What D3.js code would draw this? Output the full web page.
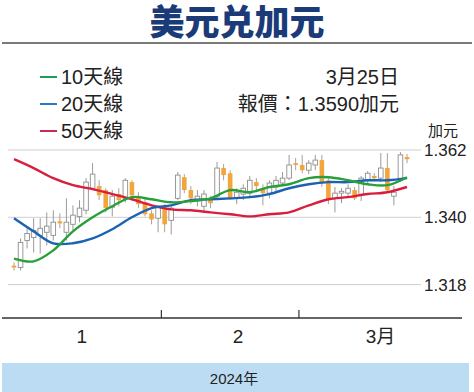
<!DOCTYPE html>
<html>
<head>
<meta charset="utf-8">
<script src="https://cdn.jsdelivr.net/npm/d3@7"></script>
<style>
  body { margin: 0; background: #fff; }
  svg { display: block; font-family: "Liberation Sans", "Noto Sans CJK TC", sans-serif; }
</style>
</head>
<body>
<svg id="chart" width="474" height="392"></svg>
<script>
// daily candles, 2 Jan - 25 Mar 2024 (USD/CAD)
const opens = [
  1.3242,1.3236,1.3324,1.3334,1.3341,1.3351,1.3341,1.3387,1.3351,1.3377,
  1.3403,1.3423,1.3495,1.3502,1.3489,1.3433,1.3476,1.3462,1.3515,1.3469,
  1.3449,1.3413,1.3397,1.3430,1.3390,1.3462,1.3531,1.3489,1.3456,1.3436,
  1.3459,1.3469,1.3561,1.3544,1.3462,1.3476,1.3479,1.3515,1.3495,1.3479,
  1.3499,1.3512,1.3528,1.3577,1.3571,1.3554,1.3571,1.3587,1.3521,1.3462,
  1.3479,1.3479,1.3489,1.3472,1.3521,1.3535,1.3528,1.3561,1.3469,1.3521,1.3597];
const closes = [
  1.3236,1.3318,1.3347,1.3357,1.3364,1.3371,1.3384,1.3380,1.3384,1.3407,
  1.3430,1.3515,1.3541,1.3472,1.3430,1.3469,1.3456,1.3521,1.3472,1.3443,
  1.3410,1.3393,1.3433,1.3377,1.3430,1.3538,1.3489,1.3462,1.3469,1.3476,
  1.3446,1.3561,1.3538,1.3462,1.3482,1.3495,1.3521,1.3502,1.3479,1.3512,
  1.3521,1.3528,1.3571,1.3571,1.3554,1.3577,1.3587,1.3515,1.3456,1.3479,
  1.3485,1.3495,1.3462,1.3528,1.3544,1.3528,1.3561,1.3489,1.3482,1.3604,1.3590];
const highs = [
  1.3252,1.3331,1.3364,1.3397,1.3397,1.3416,1.3423,1.3413,1.3462,1.3439,
  1.3456,1.3528,1.3577,1.3521,1.3495,1.3489,1.3495,1.3528,1.3521,1.3482,
  1.3462,1.3423,1.3439,1.3443,1.3436,1.3548,1.3541,1.3502,1.3489,1.3489,
  1.3469,1.3581,1.3574,1.3554,1.3495,1.3508,1.3535,1.3528,1.3508,1.3521,
  1.3535,1.3548,1.3604,1.3594,1.3604,1.3587,1.3604,1.3604,1.3528,1.3499,
  1.3495,1.3508,1.3499,1.3535,1.3551,1.3544,1.3610,1.3610,1.3502,1.3613,1.3607];
const lows = [
  1.3226,1.3226,1.3298,1.3285,1.3282,1.3308,1.3324,1.3364,1.3324,1.3357,
  1.3384,1.3410,1.3489,1.3456,1.3416,1.3403,1.3436,1.3449,1.3462,1.3430,
  1.3403,1.3377,1.3351,1.3351,1.3344,1.3456,1.3479,1.3443,1.3436,1.3416,
  1.3430,1.3462,1.3521,1.3456,1.3443,1.3456,1.3462,1.3482,1.3439,1.3462,
  1.3482,1.3502,1.3521,1.3554,1.3544,1.3541,1.3554,1.3499,1.3443,1.3416,
  1.3446,1.3469,1.3456,1.3453,1.3508,1.3518,1.3515,1.3482,1.3439,1.3515,1.3577];

// moving averages read at every third trading day
const maIdx = [0,3,6,9,12,15,18,21,24,27,30,33,36,39,42,45,48,51,54,57,60];
const ma10 = [1.3265,1.3256,1.3292,1.3354,1.3400,1.3436,1.3466,1.3459,1.3449,1.3453,1.3462,
              1.3489,1.3482,1.3499,1.3508,1.3528,1.3531,1.3521,1.3508,1.3505,1.3531];
const ma20 = [1.3397,1.3354,1.3315,1.3315,1.3331,1.3361,1.3400,1.3430,1.3439,1.3456,1.3459,
              1.3462,1.3466,1.3476,1.3495,1.3508,1.3515,1.3515,1.3521,1.3521,1.3528];
const ma50 = [1.3590,1.3561,1.3528,1.3505,1.3492,1.3476,1.3459,1.3439,1.3426,1.3423,1.3416,
              1.3410,1.3403,1.3410,1.3416,1.3439,1.3459,1.3466,1.3476,1.3482,1.3499];

const monthStarts = [0, 23, 44];
const monthLabels = ["1", "2", "3月"];
const yTicks = [1.318, 1.340, 1.362];

const legendItems = [
  { label: "10天線", color: "#1f9e55" },
  { label: "20天線", color: "#2a78c8" },
  { label: "50天線", color: "#c8285a" }
];

const svg = d3.select("#chart");
const W = 474;
const plotL = 8, plotR = 421, axisL = 2, axisR = 462, axisY = 318;

const x = d3.scaleLinear().domain([0, opens.length - 1]).range([14, 407]);
const y = d3.scaleLinear().domain([1.318, 1.362]).range([284.6, 150]);

// title
svg.append("text").attr("x", W / 2).attr("y", 35).attr("text-anchor", "middle")
  .attr("fill", "#1b3a78").style("font-size", "35px").style("font-weight", "900")
  .style("font-family", "'Noto Sans CJK SC', sans-serif").text("美元兑加元");
svg.append("line").attr("x1", 2).attr("x2", 472).attr("y1", 43).attr("y2", 43)
  .attr("stroke", "#7a7a7a").attr("stroke-width", 2);

// legend
legendItems.forEach((d, i) => {
  const ly = 77 + i * 27;
  svg.append("line").attr("x1", 40).attr("x2", 57).attr("y1", ly).attr("y2", ly)
    .attr("stroke", d.color).attr("stroke-width", 2);
  svg.append("text").attr("x", 61).attr("y", ly + 7).attr("fill", "#222")
    .style("font-size", "20px").text(d.label);
});
svg.append("text").attr("x", 399).attr("y", 84).attr("text-anchor", "end")
  .attr("fill", "#222").style("font-size", "20px").text("3月25日");
svg.append("text").attr("x", 399).attr("y", 111).attr("text-anchor", "end")
  .attr("fill", "#222").style("font-size", "20px").text("報價：1.3590加元");
svg.append("text").attr("x", 428).attr("y", 136)
  .attr("fill", "#222").style("font-size", "15px").text("加元");

// grid + right labels
const grid = svg.append("g");
grid.selectAll("line").data(yTicks).join("line")
  .attr("x1", plotL).attr("x2", plotR)
  .attr("y1", d => y(d)).attr("y2", d => y(d))
  .attr("stroke", "#cfcfcf").attr("stroke-width", 1);
grid.selectAll("text").data(yTicks).join("text")
  .attr("x", 424).attr("y", d => y(d) + 6)
  .attr("fill", "#222").style("font-size", "17px")
  .text(d => d3.format(".3f")(d));

// candles
const candles = svg.append("g");
const bw = 4.6;
opens.forEach((o, i) => {
  const c = closes[i], up = c >= o;
  const cx = x(i);
  candles.append("line").attr("x1", cx).attr("x2", cx)
    .attr("y1", y(highs[i])).attr("y2", y(lows[i]))
    .attr("stroke", up ? "#9a9a9a" : "#b0a090").attr("stroke-width", 1);
  const top = y(Math.max(o, c)), bot = y(Math.min(o, c));
  candles.append("rect").attr("x", cx - bw / 2).attr("y", top)
    .attr("width", bw).attr("height", Math.max(bot - top, 1.6))
    .attr("fill", up ? "#fff" : "#f2a53a")
    .attr("stroke", up ? "#8e8e8e" : "none").attr("stroke-width", 0.9);
});

// moving averages
const line = d3.line().x((d, i) => x(maIdx[i])).y(d => y(d)).curve(d3.curveCatmullRom.alpha(0.5));
[[ma50, "#d81e3c"], [ma20, "#1b62b4"], [ma10, "#27a03a"]].forEach(([vals, col]) => {
  svg.append("path").datum(vals).attr("d", line)
    .attr("fill", "none").attr("stroke", col).attr("stroke-width", 2.4);
});

// x axis
svg.append("line").attr("x1", axisL).attr("x2", axisR).attr("y1", axisY).attr("y2", axisY)
  .attr("stroke", "#333").attr("stroke-width", 1.5);
const bounds = monthStarts.slice(1).map(s => x(s - 0.5));
svg.selectAll(".mtick").data(bounds).join("line").attr("class", "mtick")
  .attr("x1", d => d).attr("x2", d => d).attr("y1", axisY - 8).attr("y2", axisY)
  .attr("stroke", "#333").attr("stroke-width", 1.2);
const edges = [axisL, ...bounds, axisR];
svg.selectAll(".mlabel").data(monthLabels).join("text").attr("class", "mlabel")
  .attr("x", (d, i) => (edges[i] + edges[i + 1]) / 2 + (i === 1 ? 8 : 0))
  .attr("y", 343).attr("text-anchor", "middle")
  .attr("fill", "#222").style("font-size", "19px").text(d => d);

// year band
svg.append("rect").attr("x", 2).attr("y", 363).attr("width", 467).attr("height", 29)
  .attr("fill", "#bcdcf3");
svg.append("text").attr("x", 234).attr("y", 384).attr("text-anchor", "middle")
  .attr("fill", "#222").style("font-size", "15px").text("2024年");
</script>
</body>
</html>
